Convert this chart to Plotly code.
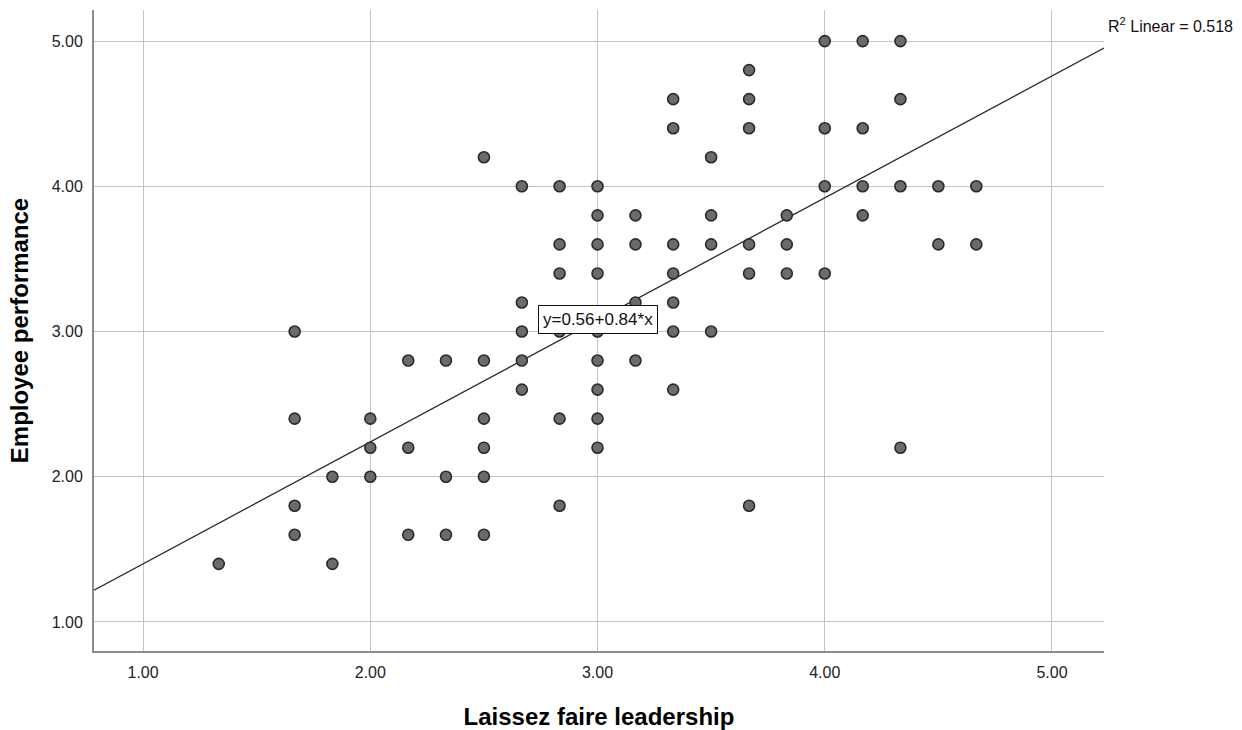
import numpy as np
import plotly.graph_objects as go

# Laissez faire leadership score (x) and employee performance score (y)
leadership = [
    1.333,
    1.667, 1.667, 1.667, 1.667,
    1.833, 1.833,
    2.0, 2.0, 2.0,
    2.167, 2.167, 2.167,
    2.333, 2.333, 2.333,
    2.5, 2.5, 2.5, 2.5, 2.5, 2.5,
    2.667, 2.667, 2.667, 2.667, 2.667,
    2.833, 2.833, 2.833, 2.833, 2.833, 2.833,
    3.0, 3.0, 3.0, 3.0, 3.0, 3.0, 3.0, 3.0, 3.0,
    3.167, 3.167, 3.167, 3.167,
    3.333, 3.333, 3.333, 3.333, 3.333, 3.333, 3.333,
    3.5, 3.5, 3.5, 3.5,
    3.667, 3.667, 3.667, 3.667, 3.667, 3.667,
    3.833, 3.833, 3.833,
    4.0, 4.0, 4.0, 4.0,
    4.167, 4.167, 4.167, 4.167,
    4.333, 4.333, 4.333, 4.333,
    4.5, 4.5,
    4.667, 4.667,
]
performance = [
    1.4,
    3.0, 2.4, 1.8, 1.6,
    2.0, 1.4,
    2.4, 2.2, 2.0,
    2.8, 2.2, 1.6,
    2.8, 2.0, 1.6,
    4.2, 2.8, 2.4, 2.2, 2.0, 1.6,
    4.0, 3.2, 3.0, 2.8, 2.6,
    4.0, 3.6, 3.4, 3.0, 2.4, 1.8,
    4.0, 3.8, 3.6, 3.4, 3.0, 2.8, 2.6, 2.4, 2.2,
    3.8, 3.6, 3.2, 2.8,
    4.6, 4.4, 3.6, 3.4, 3.2, 3.0, 2.6,
    4.2, 3.8, 3.6, 3.0,
    4.8, 4.6, 4.4, 3.6, 3.4, 1.8,
    3.8, 3.6, 3.4,
    5.0, 4.4, 4.0, 3.4,
    5.0, 4.4, 4.0, 3.8,
    5.0, 4.6, 4.0, 2.2,
    4.0, 3.6,
    4.0, 3.6,
]

# Fitted linear model
intercept = 0.56
slope = 0.84
r_squared = 0.518

tick_vals = [1.0, 2.0, 3.0, 4.0, 5.0]
tick_text = ["1.00", "2.00", "3.00", "4.00", "5.00"]

x_range = [0.784, 5.229]
y_range = [0.8, 5.214]

fit_x = np.array(x_range)
fit_y = intercept + slope * fit_x

font_family = "Liberation Sans, Arial, sans-serif"

fig = go.Figure()

fig.add_trace(go.Scatter(
    x=fit_x, y=fit_y, mode="lines",
    line=dict(color="#2b2b2b", width=1.3),
    hoverinfo="skip", showlegend=False,
))

fig.add_trace(go.Scatter(
    x=leadership, y=performance, mode="markers",
    marker=dict(size=11, color="#6b6b6b",
                line=dict(color="#2a2a2a", width=1.6)),
    showlegend=False,
))

# Fit equation label, placed just above the y = 3 gridline at x = 3
fig.add_annotation(
    x=3.0, y=3.083, xref="x", yref="y",
    text=f"y={intercept:.2f}+{slope:.2f}*x",
    showarrow=False,
    font=dict(family=font_family, size=17, color="#111111"),
    bgcolor="white", bordercolor="#111111", borderwidth=1, borderpad=4,
)

fig.add_annotation(
    x=1.002, y=0.977, xref="paper", yref="paper",
    xanchor="left", yanchor="middle",
    text=f"R<sup>2</sup> Linear = {r_squared:.3f}",
    showarrow=False,
    font=dict(family=font_family, size=16, color="#111111"),
)

axis_common = dict(
    tickmode="array", tickvals=tick_vals, ticktext=tick_text,
    showgrid=True, gridcolor="#c4c4c4", gridwidth=1,
    showline=True, linecolor="#8c8c8c", linewidth=2,
    zeroline=False, ticks="", automargin=False,
    tickfont=dict(family=font_family, size=16, color="#222222"),
)

fig.update_xaxes(
    range=x_range, ticklabelstandoff=6,
    title=dict(text="<b>Laissez faire leadership</b>", standoff=28,
               font=dict(family=font_family, size=24, color="#000000")),
    **axis_common,
)
fig.update_yaxes(
    range=y_range, ticklabelstandoff=6,
    title=dict(text="<b>Employee performance</b>", standoff=16,
               font=dict(family=font_family, size=24, color="#000000")),
    **axis_common,
)

fig.update_layout(
    width=1242, height=730,
    margin=dict(l=94, r=138, t=10, b=79),
    plot_bgcolor="white", paper_bgcolor="white",
    font=dict(family=font_family),
)

fig.write_html("out.html")
